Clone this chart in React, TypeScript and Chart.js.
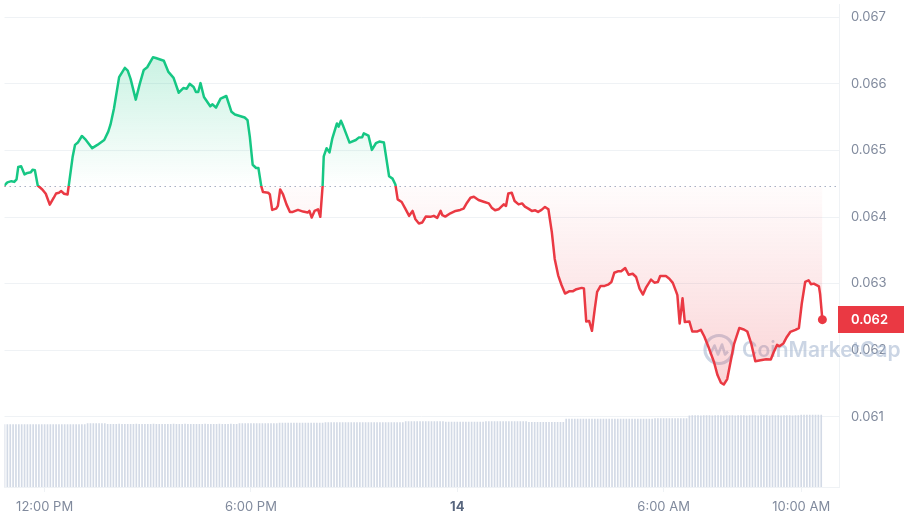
import React, { useEffect, useRef } from 'react';
import { Chart, registerables } from 'chart.js';

Chart.register(...registerables);

const GREEN = '#16c784';
const RED = '#ea3943';

// Price samples: minutes since 00:00 on the 13th
const priceTimes = [
  650, 655, 662, 667, 671, 674, 679, 685, 690, 696,
  699, 703, 708, 716, 722, 729, 736, 740, 745, 749,
  754, 760, 762, 769, 773, 778, 785, 792, 803, 812,
  824, 831, 835, 841, 850, 860, 865, 870, 879, 886,
  893, 899, 909, 914, 919, 928, 936, 945, 954, 962,
  968, 973, 980, 984, 988, 992, 998, 1009, 1013, 1019,
  1027, 1037, 1046, 1052, 1069, 1074, 1078, 1083, 1089, 1093,
  1098, 1101, 1110, 1113, 1117, 1124, 1127, 1131, 1136, 1142,
  1148, 1153, 1162, 1171, 1179, 1182, 1186, 1191, 1197, 1201,
  1205, 1207, 1212, 1217, 1222, 1230, 1233, 1237, 1241, 1252,
  1263, 1268, 1274, 1277, 1285, 1291, 1298, 1304, 1312, 1321,
  1327, 1332, 1336, 1343, 1350, 1356, 1362, 1367, 1373, 1379,
  1385, 1393, 1399, 1405, 1411, 1414, 1419, 1428, 1437, 1445,
  1451, 1457, 1463, 1469, 1477, 1486, 1495, 1500, 1506, 1512,
  1521, 1525, 1529, 1535, 1540, 1547, 1553, 1558, 1564, 1570,
  1576, 1581, 1587, 1593, 1599, 1605, 1610, 1616, 1622, 1628,
  1636, 1642, 1648, 1657, 1661, 1665, 1670, 1675, 1680, 1684,
  1690, 1697, 1703, 1709, 1714, 1720, 1726, 1733, 1739, 1746,
  1752, 1758, 1764, 1769, 1778, 1784, 1790, 1794, 1804, 1810,
  1816, 1822, 1824, 1828, 1833, 1837, 1845, 1850, 1859, 1865,
  1871, 1879, 1888, 1894, 1900, 1905, 1911, 1917, 1923, 1932,
  1940, 1946, 1953, 1960, 1969, 1979, 1987, 1992, 1998, 2002,
  2009, 2015, 2021, 2030, 2036, 2041, 2047, 2053, 2057, 2062,
  2071, 2073, 2077,
];

const priceValues = [
  0.064476, 0.064521, 0.064539, 0.064528, 0.064566, 0.064752, 0.064762, 0.064640, 0.064662, 0.064673,
  0.064711, 0.064703, 0.064473, 0.064414, 0.064350, 0.064186, 0.064290, 0.064354, 0.064365, 0.064390,
  0.064350, 0.064339, 0.064464, 0.064911, 0.065084, 0.065119, 0.065218, 0.065158, 0.065035, 0.065084,
  0.065158, 0.065283, 0.065392, 0.065630, 0.066102, 0.066241, 0.066200, 0.066077, 0.065764, 0.066002,
  0.066211, 0.066251, 0.066400, 0.066390, 0.066375, 0.066349, 0.066181, 0.066092, 0.065868, 0.065938,
  0.065928, 0.066002, 0.065953, 0.065879, 0.065879, 0.066013, 0.065804, 0.065664, 0.065694, 0.065645,
  0.065779, 0.065819, 0.065581, 0.065541, 0.065496, 0.065456, 0.065209, 0.064786, 0.064737, 0.064737,
  0.064464, 0.064375, 0.064365, 0.064339, 0.064107, 0.064126, 0.064167, 0.064414, 0.064339, 0.064190,
  0.064077, 0.064077, 0.064107, 0.064082, 0.064067, 0.064092, 0.063992, 0.064092, 0.064116, 0.064003,
  0.064464, 0.064911, 0.065035, 0.064971, 0.065183, 0.065407, 0.065358, 0.065447, 0.065367, 0.065119,
  0.065158, 0.065194, 0.065198, 0.065258, 0.065224, 0.065009, 0.065109, 0.065134, 0.065119, 0.064613,
  0.064577, 0.064488, 0.064265, 0.064226, 0.064116, 0.064018, 0.064092, 0.063967, 0.063903, 0.063918,
  0.064007, 0.064003, 0.064018, 0.063988, 0.064092, 0.064027, 0.064007, 0.064056, 0.064092, 0.064107,
  0.064126, 0.064216, 0.064290, 0.064305, 0.064256, 0.064230, 0.064205, 0.064141, 0.064101, 0.064116,
  0.064190, 0.064167, 0.064354, 0.064365, 0.064241, 0.064190, 0.064205, 0.064156, 0.064126, 0.064092,
  0.064101, 0.064077, 0.064107, 0.064152, 0.064116, 0.063769, 0.063371, 0.063124, 0.062975, 0.062850,
  0.062886, 0.062886, 0.062916, 0.062935, 0.062925, 0.062429, 0.062439, 0.062290, 0.062627, 0.062876,
  0.062965, 0.062965, 0.062984, 0.063024, 0.063163, 0.063184, 0.063184, 0.063233, 0.063133, 0.063148,
  0.063099, 0.062925, 0.062835, 0.062935, 0.063059, 0.063014, 0.063024, 0.063114, 0.063114, 0.063073,
  0.063010, 0.062876, 0.062826, 0.062399, 0.062779, 0.062421, 0.062429, 0.062280, 0.062280, 0.062305,
  0.062205, 0.062031, 0.061818, 0.061625, 0.061510, 0.061483, 0.061565, 0.061833, 0.062094, 0.062332,
  0.062310, 0.062280, 0.062094, 0.061833, 0.061848, 0.061863, 0.061858, 0.061967, 0.062079, 0.062057,
  0.062101, 0.062198, 0.062273, 0.062305, 0.062332, 0.062697, 0.063024, 0.063050, 0.062990, 0.062999,
  0.062957, 0.062846, 0.062458,
];

const openPrice = 0.064464;

// Volume bars: one every 5 minutes starting at 10:50
const volumeStartMinute = 650;
const volumeStepMinutes = 5;
const volumeValues = [
  12.94, 12.95, 12.93, 12.94, 12.96, 12.94, 12.95, 12.94, 12.93, 12.95,
  12.94, 12.96, 12.95, 12.94, 12.95, 12.93, 12.94, 12.95, 12.94, 12.96,
  12.95, 12.94, 12.93, 12.95, 12.94, 12.95, 12.96, 12.94, 12.95,
  13.12, 13.14, 13.15, 13.14, 13.13, 13.15, 13.12,
  13.00, 13.01, 12.99, 13.00, 13.02, 13.01, 13.00, 12.99, 13.01, 13.00,
  13.02, 13.01, 13.00, 13.01, 12.99, 13.00, 13.02, 13.01, 13.00, 13.01,
  13.00, 12.99, 13.01, 13.02, 13.00, 13.01, 13.00, 13.02, 13.01, 13.00,
  13.01, 12.99, 13.00, 13.01, 13.02, 13.01, 13.00, 13.01, 13.00, 13.02,
  13.01, 13.00, 13.01, 13.02, 13.01, 13.00,
  13.13, 13.14, 13.15, 13.14, 13.13, 13.14, 13.15, 13.14, 13.13, 13.14, 13.15, 13.14, 13.13, 13.14,
  13.24, 13.25, 13.26, 13.25, 13.24, 13.25, 13.26, 13.25, 13.24, 13.25, 13.26, 13.25, 13.24, 13.25, 13.26, 13.25,
  13.34, 13.35, 13.36, 13.35, 13.34, 13.35, 13.36, 13.35, 13.34, 13.35,
  13.36, 13.35, 13.34, 13.35, 13.36, 13.35, 13.34, 13.35, 13.36, 13.35,
  13.34, 13.35, 13.36, 13.35, 13.34, 13.35, 13.36, 13.35,
  13.54, 13.55, 13.56, 13.55, 13.54, 13.55, 13.56, 13.55, 13.54, 13.55, 13.56, 13.55, 13.54, 13.55,
  13.44, 13.45, 13.46, 13.45, 13.44, 13.45, 13.46, 13.45, 13.44, 13.45, 13.46, 13.45, 13.44, 13.45,
  13.54, 13.55, 13.56, 13.55, 13.54, 13.55, 13.56, 13.55, 13.54, 13.55, 13.56, 13.55, 13.54, 13.55, 13.56,
  13.39, 13.40, 13.41, 13.40, 13.39, 13.40, 13.41, 13.40, 13.39, 13.40, 13.41, 13.40, 13.39,
  14.06, 14.07, 14.08, 14.07, 14.06, 14.07, 14.08, 14.07, 14.06, 14.07,
  14.08, 14.07, 14.06, 14.07, 14.08, 14.07, 14.06, 14.07, 14.08, 14.07,
  14.06, 14.07, 14.08, 14.07, 14.06, 14.07, 14.08, 14.07, 14.06, 14.07, 14.08,
  14.16, 14.17, 14.18, 14.17, 14.16, 14.17, 14.18, 14.17, 14.16, 14.17, 14.18, 14.17,
  14.77, 14.78, 14.79, 14.78, 14.77, 14.78, 14.79, 14.78, 14.77, 14.78,
  14.79, 14.78, 14.77, 14.78, 14.79, 14.78, 14.77, 14.78, 14.79, 14.78,
  14.77, 14.78, 14.79, 14.78, 14.77, 14.78, 14.79, 14.78, 14.77, 14.78,
  14.79, 14.78, 14.77, 14.78, 14.79, 14.78, 14.77, 14.78, 14.79,
  14.88, 14.89, 14.90, 14.89, 14.88, 14.89, 14.90, 14.89,
];

const xTickValues = [720, 1080, 1440, 1800, 2040];
const xTickLabels = ['12:00 PM', '6:00 PM', '14', '6:00 AM', '10:00 AM'];
const yTickValues = [0.061, 0.062, 0.063, 0.064, 0.065, 0.066, 0.067];

const X_MIN = 650;
const X_MAX = 2106;
const Y_MIN = 0.059943;
const Y_MAX = 0.067194;

function makeGradient(chart: any, kind: 'line' | 'fill') {
  const { ctx, chartArea, scales } = chart;
  if (!chartArea || !scales || !scales.y) return kind === 'line' ? RED : 'rgba(0,0,0,0)';
  const top = chartArea.top;
  const bottom = chartArea.bottom;
  const yb = scales.y.getPixelForValue(openPrice);
  const f = Math.min(0.999, Math.max(0.001, (yb - top) / (bottom - top)));
  const g = ctx.createLinearGradient(0, top, 0, bottom);
  if (kind === 'line') {
    g.addColorStop(0, GREEN);
    g.addColorStop(f, GREEN);
    g.addColorStop(f, RED);
    g.addColorStop(1, RED);
  } else {
    g.addColorStop(0, 'rgba(22,199,132,0.32)');
    g.addColorStop(f, 'rgba(22,199,132,0.0)');
    g.addColorStop(f, 'rgba(234,57,67,0.015)');
    g.addColorStop(1, 'rgba(234,57,67,0.32)');
  }
  return g;
}

const decorPlugin = {
  id: 'decor',
  beforeDatasetsDraw(chart: any) {
    const { ctx, chartArea, scales } = chart;
    // dotted open-price line
    const yb = scales.y.getPixelForValue(openPrice);
    ctx.save();
    ctx.strokeStyle = '#a6b0c3';
    ctx.lineWidth = 1.2;
    ctx.setLineDash([1.5, 3.5]);
    ctx.beginPath();
    ctx.moveTo(chartArea.left, Math.round(yb) + 0.5);
    ctx.lineTo(chartArea.right, Math.round(yb) + 0.5);
    ctx.stroke();
    ctx.restore();

    // watermark
    const cx = chartArea.right - 120;
    const cy = chartArea.top + chartArea.height * 0.715;
    const wm = 'rgba(160,178,205,0.55)';
    ctx.save();
    ctx.strokeStyle = wm;
    ctx.fillStyle = wm;
    ctx.lineWidth = 3.2;
    ctx.beginPath();
    ctx.arc(cx, cy, 14, 0, Math.PI * 2);
    ctx.stroke();
    ctx.lineWidth = 2.6;
    ctx.lineJoin = 'round';
    ctx.beginPath();
    ctx.moveTo(cx - 9, cy + 5);
    ctx.lineTo(cx - 4.5, cy - 4);
    ctx.lineTo(cx - 1, cy + 5);
    ctx.lineTo(cx + 3, cy - 5);
    ctx.lineTo(cx + 6, cy + 5);
    ctx.lineTo(cx + 9, cy + 2);
    ctx.stroke();
    ctx.font = '600 21px Inter, sans-serif';
    ctx.textAlign = 'left';
    ctx.textBaseline = 'middle';
    ctx.fillText('CoinMarketCap', cx + 23, cy + 1);
    ctx.restore();
  },
  afterDraw(chart: any) {
    const { ctx, chartArea, scales } = chart;
    const last = priceValues[priceValues.length - 1];
    const y = scales.y.getPixelForValue(last);
    ctx.save();
    ctx.fillStyle = RED;
    ctx.fillRect(chartArea.right - 1, Math.round(y - 13.5), 66, 27);
    ctx.fillStyle = '#ffffff';
    ctx.font = '600 13px Inter, sans-serif';
    ctx.textAlign = 'left';
    ctx.textBaseline = 'middle';
    ctx.fillText(last.toFixed(3), chartArea.right + 12, y + 0.5);
    ctx.restore();
  },
};

export default function App() {
  const canvasRef = useRef<HTMLCanvasElement | null>(null);

  useEffect(() => {
    const canvas = canvasRef.current;
    if (!canvas) return;

    const linePoints = priceTimes.map((t, i) => ({ x: t, y: priceValues[i] }));
    const volumePoints = volumeValues.map((v, i) => ({
      x: volumeStartMinute + i * volumeStepMinutes,
      y: v,
    }));
    const lastIndex = linePoints.length - 1;

    const chart = new Chart(canvas, {
      type: 'line',
      data: {
        datasets: [
          {
            type: 'line',
            data: linePoints,
            yAxisID: 'y',
            xAxisID: 'x',
            order: 0,
            borderWidth: 2.5,
            tension: 0,
            borderJoinStyle: 'round',
            borderCapStyle: 'round',
            borderColor: (c: any) => makeGradient(c.chart, 'line'),
            backgroundColor: (c: any) => makeGradient(c.chart, 'fill'),
            fill: { target: { value: openPrice } },
            pointRadius: (c: any) => (c.dataIndex === lastIndex ? 4.5 : 0),
            pointBackgroundColor: RED,
            pointBorderWidth: 0,
            pointHoverRadius: 0,
          } as any,
          {
            type: 'bar',
            data: volumePoints,
            yAxisID: 'y2',
            xAxisID: 'x',
            order: 1,
            backgroundColor: '#d3dae6',
            barThickness: 1,
            borderWidth: 0,
          } as any,
        ],
      },
      options: {
        responsive: false,
        animation: false,
        devicePixelRatio: 1,
        events: [],
        layout: { padding: 0 },
        plugins: {
          legend: { display: false },
          tooltip: { enabled: false },
        },
        scales: {
          x: {
            type: 'linear',
            min: X_MIN,
            max: X_MAX,
            offset: false,
            afterBuildTicks: (scale: any) => {
              scale.ticks = xTickValues.map((v) => ({ value: v }));
            },
            afterFit: (scale: any) => {
              scale.height = 35;
              scale.paddingLeft = 0;
              scale.paddingRight = 0;
            },
            grid: {
              drawOnChartArea: false,
              drawTicks: true,
              tickLength: 5,
              color: '#eff2f5',
              offset: false,
            },
            border: { display: true, color: '#eff2f5' },
            ticks: {
              autoSkip: false,
              maxRotation: 0,
              padding: 7,
              color: (c: any) => (c.tick && c.tick.value === 1440 ? '#58667e' : '#808a9d'),
              font: (c: any) =>
                c.tick && c.tick.value === 1440
                  ? { size: 13, weight: 'bold', family: 'Inter, sans-serif' }
                  : { size: 13, family: 'Inter, sans-serif' },
              callback: (v: any) => {
                const i = xTickValues.indexOf(Number(v));
                return i >= 0 ? xTickLabels[i] : '';
              },
            },
          },
          y: {
            type: 'linear',
            position: 'right',
            min: Y_MIN,
            max: Y_MAX,
            afterBuildTicks: (scale: any) => {
              scale.ticks = yTickValues.map((v) => ({ value: v }));
            },
            afterFit: (scale: any) => {
              scale.width = 65;
              scale.paddingTop = 0;
              scale.paddingBottom = 0;
            },
            grid: { color: '#eff2f5', drawTicks: false },
            border: { display: true, color: '#eff2f5' },
            ticks: {
              padding: 12,
              color: '#808a9d',
              font: { size: 13, family: 'Inter, sans-serif' },
              callback: (v: any) => Number(v).toFixed(3),
            },
          },
          y2: {
            type: 'linear',
            display: false,
            min: 0,
            max: 100,
          },
        },
      } as any,
      plugins: [decorPlugin],
    });

    return () => {
      chart.destroy();
    };
  }, []);

  return (
    <div style={{ position: 'fixed', left: 0, top: 0, width: 904, height: 522, background: '#fff' }}>
      <canvas ref={canvasRef} width={904} height={522} style={{ display: 'block' }} />
    </div>
  );
}
